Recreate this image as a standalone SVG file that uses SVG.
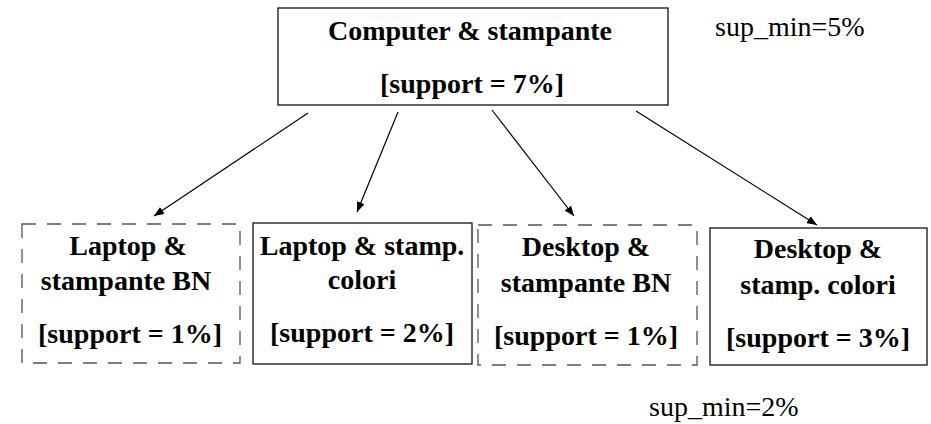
<svg xmlns="http://www.w3.org/2000/svg" width="931" height="424" viewBox="0 0 931 424">
<style>
.box{fill:#fff;stroke:#111;stroke-width:1.3}
.dbox{fill:#fff;stroke:#555;stroke-width:1.3;stroke-dasharray:14 11}
.note{font-family:"Liberation Serif","Times New Roman","DejaVu Serif",serif;font-size:28px;fill:#000}
.lb{font-family:"Liberation Serif","Times New Roman","DejaVu Serif",serif;font-size:28px;font-weight:bold;fill:#000;text-anchor:middle}
.conn{stroke:#000;stroke-width:1.2;fill:none;marker-end:url(#ah)}
</style>
<defs>
<marker id="ah" viewBox="0 0 10 8" refX="10" refY="4" markerWidth="10" markerHeight="8" markerUnits="userSpaceOnUse" orient="auto">
<path d="M0,0 L10,4 L0,8 Z" fill="#000"/>
</marker>
</defs>
<g id="connectors">
<line class="conn" x1="308" y1="113" x2="154" y2="216"/>
<line class="conn" x1="398" y1="112" x2="357" y2="212"/>
<line class="conn" x1="492" y1="110" x2="574" y2="216"/>
<line class="conn" x1="636" y1="111" x2="817" y2="225"/>
</g>
<g id="top">
<rect class="box" x="278" y="8" width="390" height="97"/>
<text class="lb" x="470" y="40">Computer &amp; stampante</text>
<text class="lb" x="472" y="93">[support = 7%]</text>
</g>
<g id="n1">
<rect class="dbox" x="22" y="224" width="218" height="139"/>
<text class="lb" x="128" y="255">Laptop &amp;</text>
<text class="lb" x="126" y="290">stampante BN</text>
<text class="lb" x="130" y="343">[support = 1%]</text>
</g>
<g id="n2">
<rect class="box" x="253" y="223" width="219" height="141"/>
<text class="lb" x="362" y="255">Laptop &amp; stamp.</text>
<text class="lb" x="362" y="289">colori</text>
<text class="lb" x="362" y="342">[support = 2%]</text>
</g>
<g id="n3">
<rect class="dbox" x="478" y="225" width="219" height="140"/>
<text class="lb" x="586" y="256">Desktop &amp;</text>
<text class="lb" x="586" y="292">stampante BN</text>
<text class="lb" x="586" y="345">[support = 1%]</text>
</g>
<g id="n4">
<rect class="box" x="710" y="228" width="217" height="137"/>
<text class="lb" x="818" y="258">Desktop &amp;</text>
<text class="lb" x="818" y="294">stamp. colori</text>
<text class="lb" x="818" y="347">[support = 3%]</text>
</g>
<text class="note" x="715" y="36">sup_min=5%</text>
<text class="note" x="649" y="416">sup_min=2%</text>
</svg>
